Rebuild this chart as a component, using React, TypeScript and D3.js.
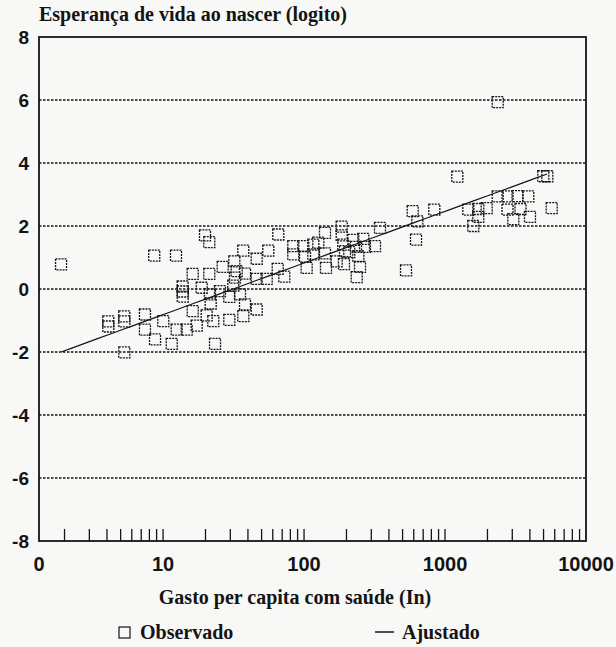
import React from "react";
import * as d3 from "d3";

// Health spending per capita (US$) and life expectancy at birth (logit)
const spending = [
  1.89, 4.09, 4.09, 5.31, 5.31, 5.31, 7.44, 7.44, 8.77, 8.66,
  10.04, 11.52, 12.35, 12.49, 14.72, 13.78, 13.78, 13.78, 16.23, 16.23,
  17.32, 18.8, 19.84, 21.28, 21.28, 21.52, 21.77, 20.39, 22.72, 23.36,
  26.49, 25.35, 29.5, 29.5, 31.49, 32.38, 32.01, 33.29, 35.13, 37.08,
  38.13, 38.13, 37.08, 46.15, 46.15, 46.15, 54.34, 55.78, 65.69, 65.04,
  72.44, 83.9, 98.8, 116.4, 83.9, 101.6, 104.4, 116.4, 126.2, 140.8,
  140.8, 143.1, 170.4, 185.0, 185.0, 192.0, 195.2, 189.9, 209.4, 223.6,
  233.7, 242.6, 236.4, 249.4, 263.2, 270.6, 318.7, 345.8, 528.8, 622.6,
  636.1, 589.9, 839.5, 1222, 1463, 1722, 1975, 1722, 1587, 2364,
  2364, 2775, 3267, 3896, 2775, 3431, 3050, 4006, 4979, 5316,
  5711,
];
const lifeLogit = [
  0.78, -1.03, -1.19, -0.87, -1.03, -2.01, -0.81, -1.29, -1.6, 1.06,
  -1.02, -1.74, 1.06, -1.29, -1.29, 0.08, -0.08, -0.24, 0.48, -0.7,
  -1.16, 0.04, 1.7, 1.49, 0.48, -0.17, -0.46, -0.84, -1.02, -1.74,
  0.7, -0.07, -0.25, -0.98, 0.11, 0.36, 0.88, 0.57, -0.17, -0.86,
  -0.49, 0.49, 1.22, -0.65, 0.96, 0.32, 0.32, 1.22, 1.73, 0.64,
  0.39, 1.36, 1.36, 1.41, 1.1, 1.03, 0.67, 1.1, 1.47, 1.78,
  1.13, 0.67, 0.88, 1.98, 1.7, 0.79, 1.2, 1.41, 1.17, 1.56,
  1.34, 1.04, 0.38, 0.7, 1.59, 1.34, 1.36, 1.94, 0.59, 1.57,
  2.15, 2.47, 2.52, 3.57, 2.52, 2.54, 2.57, 2.29, 2.0, 5.93,
  2.94, 2.94, 2.95, 2.94, 2.52, 2.54, 2.22, 2.29, 3.58, 3.58,
  2.57,
];

// Fitted model: logit = a + b * ln(spending)
const fitIntercept = -2.454;
const fitSlope = 0.712;
const fitRange = [1.89, 5300];

const xTickValues = [0, 10, 100, 1000, 10000];
const xTickLabels = ["0", "10", "100", "1000", "10000"];
const yTickValues = [8, 6, 4, 2, 0, -2, -4, -6, -8];
const gridValues = [6, 4, 2, 0, -2, -4, -6];

const titleText = "Esperança de vida ao nascer (logito)";
const xAxisTitle = "Gasto per capita com saúde (In)";
const legendObserved = "Observado";
const legendFitted = "Ajustado";

const W = 616;
const H = 647;
const plot = { left: 39, right: 586, top: 37, bottom: 541 };

export default function App() {
  const x = d3
    .scaleLog()
    .domain([Math.pow(10, 0.12), 10000])
    .range([plot.left, plot.right]);
  const y = d3.scaleLinear().domain([-8, 8]).range([plot.bottom, plot.top]);

  const minorTicks: number[] = [];
  for (let e = 0; e < 4; e++) {
    for (let m = 2; m <= 10; m++) {
      const v = m * Math.pow(10, e);
      if (v > x.domain()[0] && v < 10000) minorTicks.push(v);
    }
  }

  const fitData = d3.range(0, 41).map((i) => {
    const lx =
      Math.log(fitRange[0]) +
      (i / 40) * (Math.log(fitRange[1]) - Math.log(fitRange[0]));
    const v = Math.exp(lx);
    return [v, fitIntercept + fitSlope * Math.log(v)] as [number, number];
  });
  const line = d3
    .line<[number, number]>()
    .x((d) => x(d[0]))
    .y((d) => y(d[1]));

  const xTickPos = (v: number) => (v === 0 ? plot.left : x(v));

  const serif = "'Liberation Serif', 'Times New Roman', serif";
  const sans = "'Liberation Sans', Arial, sans-serif";
  const ink = "#141414";
  const sq = 11;

  return (
    <svg
      width={W}
      height={H}
      style={{ position: "absolute", left: 0, top: 0, background: "#f8f8f7" }}
    >
      <text
        x={plot.left}
        y={21}
        fontFamily={serif}
        fontWeight="bold"
        fontSize={20}
        fill={ink}
      >
        {titleText}
      </text>

      {gridValues.map((g) => (
        <line
          key={"g" + g}
          x1={plot.left}
          x2={plot.right}
          y1={y(g)}
          y2={y(g)}
          stroke={ink}
          strokeWidth={1.3}
          strokeDasharray="2.5 1.5"
        />
      ))}

      {yTickValues.map((v) => (
        <text
          key={"yl" + v}
          x={29}
          y={y(v)}
          textAnchor="end"
          dominantBaseline="central"
          fontFamily={sans}
          fontWeight="bold"
          fontSize={19}
          fill={ink}
        >
          {v}
        </text>
      ))}

      {minorTicks.map((v) => (
        <line
          key={"t" + v}
          x1={x(v)}
          x2={x(v)}
          y1={plot.bottom}
          y2={plot.bottom - 12}
          stroke={ink}
          strokeWidth={1.3}
        />
      ))}

      {xTickValues.map((v, i) => (
        <text
          key={"xl" + v}
          x={xTickPos(v)}
          y={571}
          textAnchor="middle"
          fontFamily={sans}
          fontWeight="bold"
          fontSize={20}
          fill={ink}
        >
          {xTickLabels[i]}
        </text>
      ))}

      <rect
        x={plot.left}
        y={plot.top}
        width={plot.right - plot.left}
        height={plot.bottom - plot.top}
        fill="none"
        stroke={ink}
        strokeWidth={1.8}
      />

      <path d={line(fitData) || ""} fill="none" stroke={ink} strokeWidth={1.2} />

      {spending.map((v, i) => (
        <rect
          key={"p" + i}
          x={x(v) - sq / 2}
          y={y(lifeLogit[i]) - sq / 2}
          width={sq}
          height={sq}
          fill="none"
          stroke={ink}
          strokeWidth={1.3}
          strokeDasharray="2 1"
        />
      ))}

      <text
        x={295}
        y={604}
        textAnchor="middle"
        fontFamily={serif}
        fontWeight="bold"
        fontSize={20}
        fill={ink}
      >
        {xAxisTitle}
      </text>

      <rect x={119} y={627} width={11} height={11} fill="none" stroke={ink} strokeWidth={1.2} />
      <text x={140} y={639} fontFamily={serif} fontWeight="bold" fontSize={20} fill={ink}>
        {legendObserved}
      </text>
      <line x1={375} x2={394} y1={632} y2={632} stroke={ink} strokeWidth={1.5} />
      <text x={402} y={639} fontFamily={serif} fontWeight="bold" fontSize={20} fill={ink}>
        {legendFitted}
      </text>
    </svg>
  );
}
